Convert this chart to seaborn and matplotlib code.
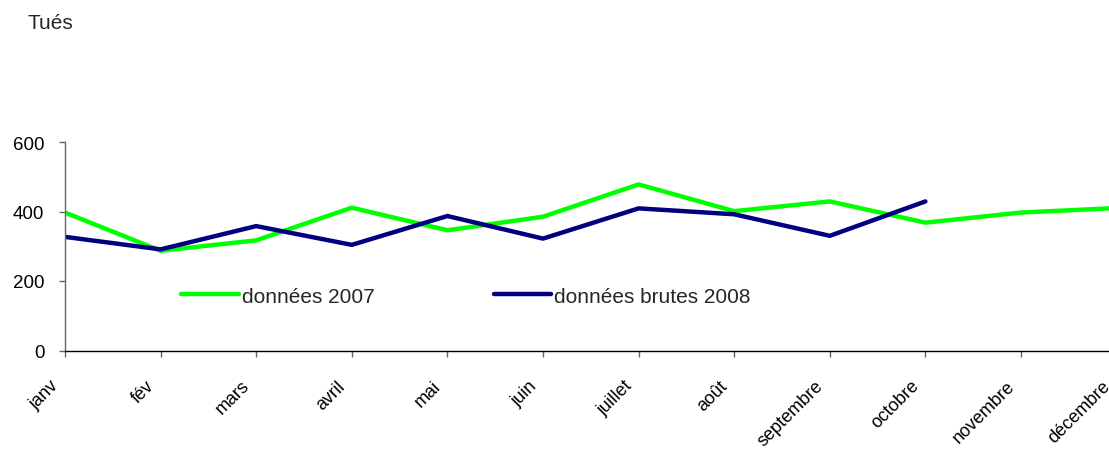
import numpy as np
import pandas as pd
import matplotlib
matplotlib.use("Agg")
import matplotlib.pyplot as plt
import matplotlib.transforms as mtransforms
import seaborn as sns

# données
mois = ["janv", "fév", "mars", "avril", "mai", "juin", "juillet", "août",
        "septembre", "octobre", "novembre", "décembre"]
tues_2007 = [397, 287, 317, 411, 346, 385, 478, 401, 429, 368, 397, 410]
tues_2008 = [327, 291, 358, 304, 387, 322, 409, 392, 330, 429, np.nan, np.nan]
y_ticks = [0, 200, 400, 600]

df = pd.DataFrame({
    "x": list(range(len(mois))) * 2,
    "tues": tues_2007 + tues_2008,
    "serie": ["données 2007"] * len(mois) + ["données brutes 2008"] * len(mois),
})

sns.set_style("ticks")
plt.rcParams["font.family"] = ["Liberation Sans", "DejaVu Sans"]

W, H = 1109, 456
fig = plt.figure(figsize=(W / 100, H / 100), dpi=100)
# l'axe des x déborde à droite (décembre coupé comme dans l'original)
ax = fig.add_axes([65 / W, 104.5 / H, 1051.6 / W, 208.5 / H])

sns.lineplot(data=df.dropna(), x="x", y="tues", hue="serie",
             palette={"données 2007": "#00FF00", "données brutes 2008": "#000080"},
             linewidth=3.2, ax=ax, sort=False)

ax.set_xlim(0, len(mois) - 1)
ax.set_ylim(0, 600)
ax.set_yticks(y_ticks)
ax.set_xticks(range(len(mois)))
ax.set_xticklabels(mois, rotation=45, ha="right", va="center",
                   rotation_mode="anchor", fontsize=13)
ax.set_xlabel("")
ax.set_ylabel("")
sns.despine(ax=ax)
ax.spines["left"].set_color("#666666")
ax.spines["bottom"].set_color("#000000")
ax.spines["left"].set_linewidth(1)
ax.spines["bottom"].set_linewidth(1)
ax.tick_params(axis="both", direction="out", length=4.3, width=1,
               color="#666666", labelcolor="#000000")
ax.tick_params(axis="y", labelsize=13.5, pad=10.5)
ax.tick_params(axis="x", pad=19)

decal = mtransforms.ScaledTranslation(-9 / 100, 0, fig.dpi_scale_trans)
for lab in ax.get_xticklabels():
    lab.set_transform(lab.get_transform() + decal)

ax.legend(loc="center left", bbox_to_anchor=(0.1107, 0.261), ncol=2,
          frameon=False, borderaxespad=0, borderpad=0, handlelength=2.76,
          handletextpad=0.15, columnspacing=5.7, fontsize=15)

fig.text(27 / W, 1 - 24 / H, "Tués", fontsize=15, va="center", ha="left")

fig.savefig("out.png", dpi=100)
